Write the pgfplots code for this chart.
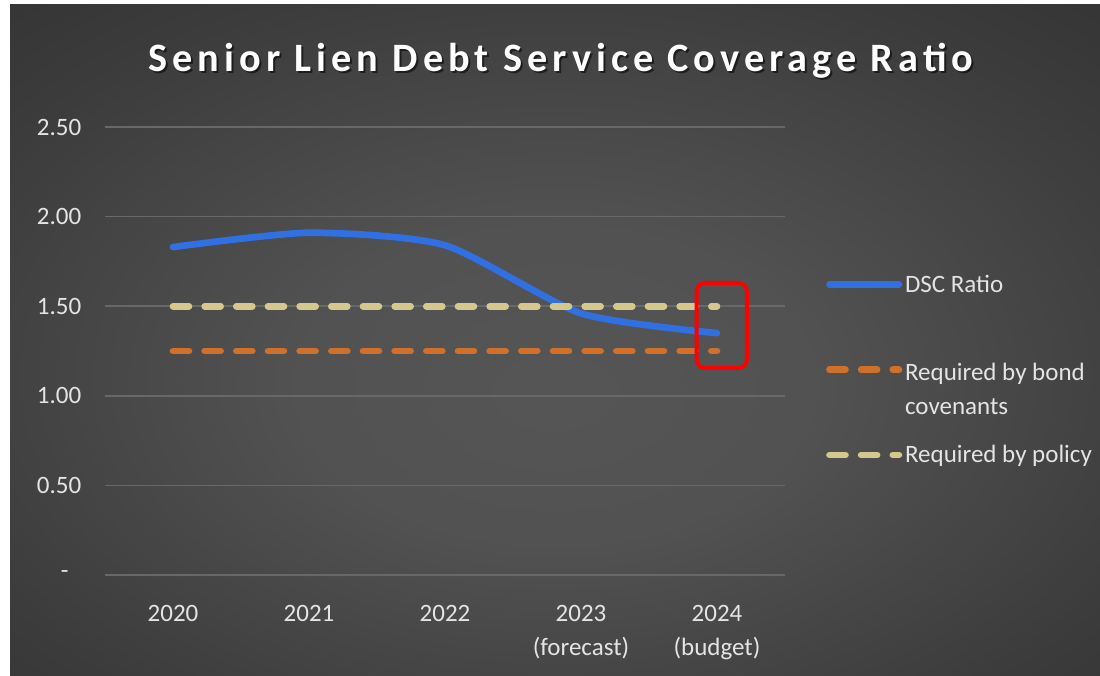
\documentclass[border=0pt]{standalone}
\usepackage{pgfplots}
\pgfplotsset{compat=1.18}
\usepackage{fontspec}
\setmainfont{Carlito}

\definecolor{dscblue}{RGB}{48,112,226}
\definecolor{bondorange}{RGB}{208,112,45}
\definecolor{policykhaki}{RGB}{212,200,140}
\definecolor{gridgray}{RGB}{104,104,104}
\definecolor{ticktext}{RGB}{228,228,228}

% broad radial glow of the dark panel
\pgfdeclareradialshading{panel}{\pgfpoint{0bp}{-4bp}}{%
  rgb(0bp)=(0.335,0.335,0.335);
  rgb(12bp)=(0.320,0.320,0.320);
  rgb(30bp)=(0.235,0.235,0.235);
  rgb(50bp)=(0.160,0.160,0.160);
  rgb(72bp)=(0.141,0.141,0.141)}

% DSC ratio by year (0 = 2020 ... 4 = 2024 budget)
\pgfplotstableread{
x y
0 1.83
1 1.91
2 1.84
3 1.46
4 1.35
}\dscdata

\pgfplotstableread{
x y
0 1.25
1 1.25
2 1.25
3 1.25
4 1.25
}\bonddata

\pgfplotstableread{
x y
0 1.50
1 1.50
2 1.50
3 1.50
4 1.50
}\policydata

\begin{document}
\begin{tikzpicture}[x=0.72pt,y=0.72pt]
% 1 unit = 1 px of the reference
\useasboundingbox (0,0) rectangle (1100,676);
\fill[white] (0,0) rectangle (1100,676);
\shade[shading=panel] (10,0) rectangle (1100,671);

% title with a soft shadow
\node[anchor=base, text=black, opacity=0.55,
      font=\fontsize{29}{32}\selectfont\bfseries\addfontfeature{LetterSpace=12.5}]
  at (563,602) {Senior Lien Debt Service Coverage Ratio};
\node[anchor=base, text=white,
      font=\fontsize{29}{32}\selectfont\bfseries\addfontfeature{LetterSpace=12.5}]
  at (561,604) {Senior Lien Debt Service Coverage Ratio};

\begin{axis}[
    at={(75.6pt,72.72pt)}, anchor=south west,
    width=489.6pt, height=322.56pt, scale only axis,
    xmin=-0.5, xmax=4.5, ymin=0, ymax=2.5,
    clip=false,
    axis line style={draw=none},
    tick style={draw=none},
    ymajorgrids,
    grid style={gridgray, line width=1.2pt},
    ytick={0,0.5,1,1.5,2,2.5},
    yticklabels={{-\hphantom{0}},0.50,1.00,1.50,2.00,2.50},
    xtick={0,1,2,3,4},
    xticklabels={2020,2021,2022,{2023\\(forecast)},{2024\\(budget)}},
    ticklabel style={font=\fontsize{18}{24}\selectfont, text=ticktext},
    xticklabel style={align=center, yshift=-18.6pt},
    yticklabel style={xshift=-13.6pt},
    legend image code/.code={\draw[#1] (0pt,0pt) -- (50pt,0pt);},
    legend style={
        at={(1.054,0.458)}, anchor=west,
        draw=none, fill=none, text=ticktext,
        font=\fontsize{18}{24.5}\selectfont,
        row sep=41pt,
        cells={anchor=west},
    },
]
\addplot[dscblue, line width=4.8pt, line cap=round, line join=round,
         smooth, tension=0.4]
  table {\dscdata};
\addlegendentry{DSC Ratio}
\addplot[bondorange, line width=4.8pt, line cap=round,
         dash pattern=on 11.5pt off 11.3pt]
  table {\bonddata};
\addlegendentry{\raisebox{0pt}[\height][0pt]{\begin{tabular}[t]{@{}l@{}}Required by bond\\covenants\end{tabular}}}
\addplot[policykhaki, line width=4.8pt, line cap=round,
         dash pattern=on 11.5pt off 11.3pt]
  table {\policydata};
\addlegendentry{Required by policy}

% red highlight box around the 2024 budget value
\draw[red, line width=2.8pt, rounded corners=6pt]
  (axis cs:3.85,1.155) rectangle (axis cs:4.22,1.63);
\end{axis}
\end{tikzpicture}
\end{document}
